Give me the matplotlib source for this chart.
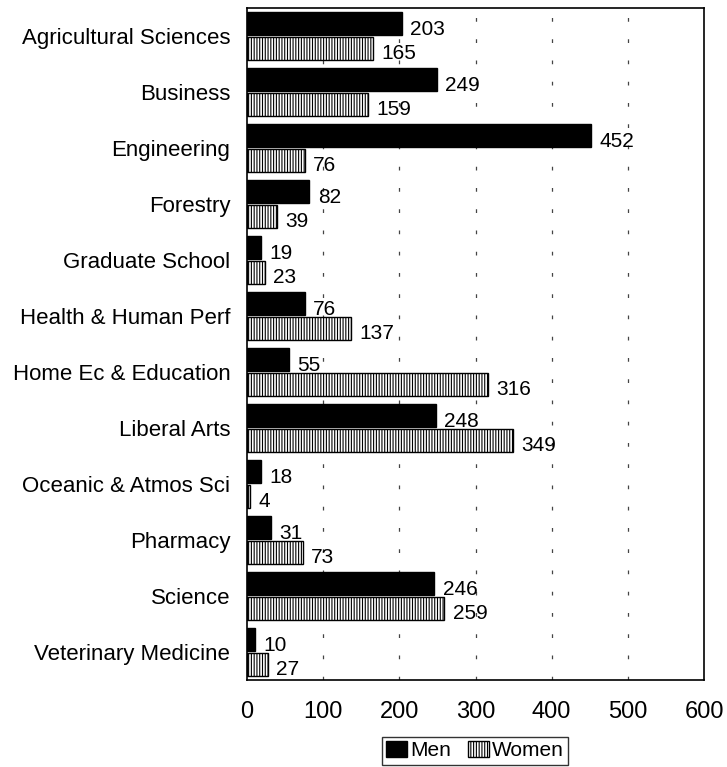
import matplotlib
matplotlib.use("Agg")
import matplotlib.pyplot as plt
import numpy as np

categories = [
    "Agricultural Sciences",
    "Business",
    "Engineering",
    "Forestry",
    "Graduate School",
    "Health & Human Perf",
    "Home Ec & Education",
    "Liberal Arts",
    "Oceanic & Atmos Sci",
    "Pharmacy",
    "Science",
    "Veterinary Medicine",
]
men = [203, 249, 452, 82, 19, 76, 55, 248, 18, 31, 246, 10]
women = [165, 159, 76, 39, 23, 137, 316, 349, 4, 73, 259, 27]
x_ticks = [0, 100, 200, 300, 400, 500, 600]

plt.rcParams["font.family"] = ["Liberation Sans", "DejaVu Sans"]
plt.rcParams["hatch.linewidth"] = 0.8

fig = plt.figure(figsize=(7.27, 7.67), dpi=100)
ax = fig.add_axes([247 / 727, 1 - 680 / 767, 457 / 727, 672 / 767])

y = np.arange(len(categories))
h = 0.41
men_bars = ax.barh(y - h / 2 - 0.01, men, height=h, color="black",
                   edgecolor="black", linewidth=1, label="Men")
women_bars = ax.barh(y + h / 2 + 0.01, women, height=h, color="white",
                     edgecolor="black", hatch="||||||", linewidth=1, label="Women")

# value labels sit just right of each bar, a little below its centre
for bars in (men_bars, women_bars):
    for bar in bars:
        val = bar.get_width()
        ax.annotate(f"{val:g}", (val, bar.get_y() + bar.get_height() / 2),
                    xytext=(6, -4), textcoords="offset points",
                    ha="left", va="center", fontsize=15)

ax.set_xlim(0, 600)
ax.set_ylim(len(categories) - 0.5, -0.5)
ax.set_yticks(y)
ax.set_yticklabels(categories, fontsize=16)
ax.set_xticks(x_ticks)
ax.set_xticklabels([str(t) for t in x_ticks], fontsize=17)
ax.tick_params(length=0)
ax.tick_params(axis="x", pad=15)
ax.tick_params(axis="y", pad=12)
for t in x_ticks[1:-1]:
    ax.axvline(t, color="#444444", linewidth=0.9, linestyle=(0, (3, 14)), zorder=0)
for s in ax.spines.values():
    s.set_linewidth(1.2)

fig.legend(handles=[men_bars, women_bars], labels=["Men", "Women"],
           loc="upper center", bbox_to_anchor=(475 / 727, 1 - 737 / 767),
           ncol=2, fontsize=15, frameon=True, fancybox=False,
           edgecolor="black", handlelength=1.0, handleheight=0.8,
           handletextpad=0.15, columnspacing=0.8, borderpad=0.2,
           borderaxespad=0)

fig.savefig("out.png", dpi=100)
